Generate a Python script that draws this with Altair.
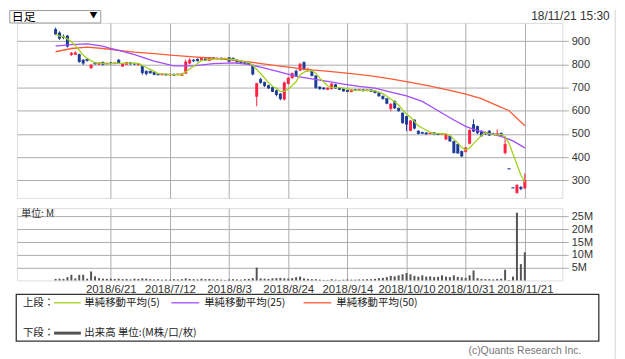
import altair as alt
import pandas as pd

# ---------------- data ----------------
tick_idx = [14, 29, 44, 59, 74, 89, 104, 119]
tick_labels = ["2018/6/21", "2018/7/12", "2018/8/3", "2018/8/24",
               "2018/9/14", "2018/10/10", "2018/10/31", "2018/11/21"]
price_ticks = [300, 400, 500, 600, 700, 800, 900]
vol_ticks = [5, 10, 15, 20, 25]

opens = [950, 935, 918, 922, 842, 843, 842, 818, 822, 785,
         806, 800, 808, 802, 806, 803, 818, 792, 800, 806,
         804, 798, 792, 770, 770, 766, 758, 755, 757, 754,
         757, 755, 752, 762, 805, 818, 822, 818, 823, 816,
         828, 824, 826, 823, 828, 826, 818, 812, 810, 806,
         792, 662, 735, 722, 708, 700, 686, 672, 650, 718,
         742, 770, 775, 808, 772, 772, 750, 702, 698, 692,
         695, 712, 698, 694, 688, 682, 690, 688, 690, 687,
         690, 685, 676, 662, 652, 610, 640, 610, 590, 575,
         515, 560, 512, 506, 504, 502, 505, 500, 498, 478,
         490, 468, 455, 425, 425, 460, 540, 532, 512, 505,
         512, 500, 500, 503, 420, 350, 268, 248, 270, 268]

highs = [958, 942, 928, 926, 853, 856, 846, 822, 826, 800,
         810, 808, 812, 808, 810, 809, 822, 806, 810, 810,
         807, 806, 795, 773, 772, 769, 762, 761, 760, 759,
         760, 761, 762, 820, 826, 822, 825, 828, 826, 830,
         831, 829, 830, 828, 831, 829, 821, 815, 813, 810,
         800, 720, 742, 725, 712, 703, 690, 676, 726, 745,
         765, 778, 806, 812, 785, 776, 752, 706, 701, 700,
         720, 716, 701, 696, 690, 693, 694, 694, 693, 693,
         692, 688, 680, 666, 655, 632, 645, 614, 592, 578,
         560, 563, 516, 510, 508, 508, 508, 504, 505, 503,
         493, 470, 458, 428, 442, 520, 563, 536, 515, 510,
         516, 505, 520, 506, 490, 350, 268, 285, 276, 330]

lows = [925, 905, 908, 872, 836, 840, 806, 797, 812, 780,
        798, 797, 795, 798, 799, 800, 802, 789, 797, 798,
        797, 795, 755, 752, 760, 752, 752, 752, 751, 751,
        750, 752, 750, 758, 800, 810, 812, 815, 814, 814,
        820, 820, 820, 818, 809, 815, 806, 805, 800, 796,
        752, 619, 716, 702, 694, 680, 662, 645, 645, 712,
        738, 748, 770, 775, 768, 748, 694, 690, 690, 689,
        692, 694, 689, 682, 680, 680, 684, 685, 683, 684,
        681, 675, 660, 648, 628, 598, 608, 596, 545, 512,
        512, 520, 498, 500, 497, 499, 497, 495, 495, 474,
        466, 415, 414, 400, 420, 455, 508, 500, 488, 497,
        492, 496, 496, 488, 412, 350, 268, 243, 258, 262]

closes = [930, 912, 915, 878, 848, 849, 812, 805, 816, 797,
          802, 806, 800, 804, 803, 806, 805, 803, 808, 802,
          801, 803, 764, 760, 763, 757, 755, 758, 754, 757,
          753, 758, 758, 810, 818, 815, 815, 826, 818, 828,
          825, 826, 824, 825, 813, 819, 810, 808, 804, 800,
          758, 717, 722, 708, 698, 683, 670, 652, 720, 740,
          760, 752, 800, 778, 778, 752, 700, 695, 694, 697,
          715, 698, 692, 685, 683, 690, 688, 691, 686, 690,
          684, 678, 664, 652, 632, 628, 612, 600, 548, 542,
          556, 525, 502, 503, 500, 505, 500, 498, 502, 499,
          470, 420, 418, 405, 440, 516, 512, 505, 492, 500,
          495, 499, 502, 492, 455, 350, 268, 278, 264, 300]

volumes = [0.6, 0.7, 0.6, 1.3, 2.2, 0.8, 2.2, 2.2, 0.7, 3.5,
           1.6, 0.9, 0.7, 0.6, 0.7, 0.6, 0.7, 0.5, 0.6, 0.4,
           0.7, 0.6, 0.8, 0.7, 0.5, 0.4, 0.5, 0.3, 0.4, 0.3,
           0.5, 0.4, 0.5, 0.8, 0.6, 0.5, 0.4, 0.7, 0.5, 0.6,
           0.4, 0.5, 0.3, 0.2, 0.4, 0.5, 0.4, 0.3, 0.5, 0.6,
           0.9, 5.0, 0.8, 0.7, 0.6, 0.8, 0.9, 1.0, 0.8, 0.7,
           0.9, 1.3, 1.5, 0.8, 0.6, 0.5, 0.5, 0.3, 0.2, 0.2,
           0.5, 0.3, 0.2, 0.3, 0.4, 0.3, 0.3, 0.4, 0.4, 0.5,
           0.5, 0.6, 0.9, 1.0, 1.3, 1.8, 1.6, 2.0, 2.4, 2.9,
           2.4, 1.8, 1.5, 2.0, 1.5, 1.6, 1.3, 1.4, 2.0, 1.5,
           1.3, 2.0, 1.4, 1.2, 1.0, 2.0, 3.9, 0.9, 0.6, 0.5,
           0.5, 0.4, 0.6, 0.7, 4.2, 0.2, 1.5, 26.5, 6.4, 11.0]

ma25_idx = [0, 4, 8, 12, 14, 17, 20, 25, 30, 35, 40, 45, 49, 53, 57, 61,
            65, 69, 73, 77, 81, 85, 89, 93, 97, 101, 104, 107, 110, 113, 116, 119]
ma25_val = [878, 885, 888, 878, 868, 856, 842, 814, 793, 793, 803, 806, 800, 783, 766, 748,
            737, 726, 715, 705, 697, 680, 664, 640, 600, 560, 533, 514, 502, 490, 470, 440]

ma50_idx = [0, 4, 8, 12, 16, 20, 25, 30, 35, 40, 45, 50, 55, 60, 65, 70,
            75, 80, 85, 90, 95, 100, 104, 108, 112, 115, 119]
ma50_val = [854, 868, 874, 868, 860, 852, 846, 838, 832, 826, 818, 808, 796, 786, 776, 768,
            760, 750, 737, 722, 706, 688, 672, 652, 622, 600, 535]

# ---------------- tables ----------------
n = len(closes)
df = pd.DataFrame({"i": list(range(n)), "open": opens, "high": highs, "low": lows,
                   "close": closes, "vol": volumes})
df["dir"] = ["up" if c > o else "down" for o, c in zip(opens, closes)]
df25 = pd.DataFrame({"i": ma25_idx, "v": ma25_val})
df50 = pd.DataFrame({"i": ma50_idx, "v": ma50_val})
one = pd.DataFrame({"k": [0]})

# ---------------- styles ----------------
RED = "#ff2244"
BLUE = "#1c3a98"
C5 = "#a2d11e"
C25 = "#a24cff"
C50 = "#ff5a35"
GRID = "#ababab"
TXT = "#333333"
JP = "Noto Sans CJK JP"
LAT = "Liberation Sans"

XS = alt.Scale(domain=[-8.54, 127.25], nice=False, zero=False)
PS = alt.Scale(domain=[224.6, 978], nice=False, zero=False)
VS = alt.Scale(domain=[0, 28.27], nice=False, zero=True)

W = 548.6
HP = 176
HV = 72.7


def xp():
    return alt.X("i:Q", scale=XS,
                 axis=alt.Axis(values=tick_idx, labels=False, ticks=False, domain=False,
                               grid=True, gridColor=GRID, title=None))


def yp(f):
    return alt.Y(f, scale=PS,
                 axis=alt.Axis(orient="right", values=price_ticks, grid=True, gridColor=GRID,
                               tickSize=6, tickColor=GRID, labelPadding=3, domain=False,
                               title=None, labelFontSize=11, labelColor=TXT, labelFont=LAT))


col = alt.Color("dir:N", scale=alt.Scale(domain=["up", "down"], range=[RED, BLUE]), legend=None)

wick = alt.Chart(df).mark_rule(strokeWidth=1).encode(x=xp(), y=yp("low:Q"), y2="high:Q", color=col)
body = alt.Chart(df).mark_bar(size=3).encode(x=xp(), y=yp("open:Q"), y2="close:Q", color=col)
otick = alt.Chart(df).mark_tick(orient="horizontal", size=3, thickness=1).encode(
    x=xp(), y=yp("open:Q"), color=col)
ctick = alt.Chart(df).mark_tick(orient="horizontal", size=3, thickness=1).encode(
    x=xp(), y=yp("close:Q"), color=col)

ma5 = alt.Chart(df).transform_window(
    ma5="mean(close)", frame=[-4, 0], sort=[alt.SortField("i", order="ascending")]
).mark_line(color=C5, strokeWidth=1.3).encode(x=xp(), y=yp("ma5:Q"))
ma25 = alt.Chart(df25).mark_line(color=C25, strokeWidth=1.3).encode(x=xp(), y=yp("v:Q"))
ma50 = alt.Chart(df50).mark_line(color=C50, strokeWidth=1.3).encode(x=xp(), y=yp("v:Q"))

# header (drop-down box and time stamp), placed relative to the price panel
hbox = alt.Chart(one).mark_rect(fill="white", stroke="#9a9a9a", strokeWidth=1).encode(
    x=alt.value(-7.2), x2=alt.value(84.3), y=alt.value(-12.5), y2=alt.value(0))
hday = alt.Chart(one).mark_text(text="日足", align="left", baseline="middle", font=JP,
                                fontSize=12, color="#000").encode(x=alt.value(-5.2), y=alt.value(-5.6))
harrow = alt.Chart(one).mark_text(text="▼", align="center", baseline="middle", font=JP,
                                  fontSize=8, color="#000").encode(x=alt.value(77), y=alt.value(-6.5))
htime = alt.Chart(one).mark_text(text="18/11/21 15:30", align="right", baseline="middle", font=LAT,
                                 fontSize=12, color=TXT).encode(x=alt.value(596.3), y=alt.value(-6.5))

price = alt.layer(wick, body, otick, ctick, ma50, ma25, ma5, hbox, hday, harrow, htime).properties(
    width=W, height=HP)

# ---------------- volume panel ----------------
label_expr = ("[" + ",".join("'%s'" % s for s in tick_labels) + "][indexof(["
              + ",".join(str(v) for v in tick_idx) + "], datum.value)]")

xv = alt.X("i:Q", scale=XS,
           axis=alt.Axis(values=tick_idx, labelExpr=label_expr, ticks=False, tickSize=0,
                         labelPadding=3, domain=False, grid=True, gridColor=GRID, title=None,
                         labelFontSize=11.5, labelColor=TXT, labelFont=LAT, labelFlush=False,
                         labelOverlap=False))
yv = alt.Y("vol:Q", scale=VS,
           axis=alt.Axis(orient="right", values=vol_ticks, labelExpr="datum.value + 'M'",
                         grid=True, gridColor=GRID, tickSize=6, tickColor=GRID, labelPadding=3,
                         domain=False, title=None, labelFontSize=11, labelColor=TXT, labelFont=LAT))

vbars = alt.Chart(df).mark_bar(size=2, color="#555555").encode(x=xv, y=yv)

unit = alt.Chart(one).mark_text(text="単位: M", align="left", baseline="middle", font=JP,
                                fontSize=10, color=TXT).encode(x=alt.value(4.3), y=alt.value(6.2))

# legend box below
lbox = alt.Chart(one).mark_rect(fill="white", stroke="#333333", strokeWidth=1.3).encode(
    x=alt.value(-0.7), x2=alt.value(585.3), y=alt.value(86.7), y2=alt.value(133.7))


def ltext(t, x, y, size=10.5, font=JP, color="#222222", align="left"):
    return alt.Chart(one).mark_text(text=t, align=align, baseline="middle", font=font,
                                    fontSize=size, color=color).encode(
        x=alt.value(x), y=alt.value(y))


def lline(x1, x2, y, color, w=1.3):
    return alt.Chart(one).mark_rule(color=color, strokeWidth=w, strokeCap="butt").encode(
        x=alt.value(x1), x2=alt.value(x2), y=alt.value(y))


R1 = 95.2
R2 = 125.7
legend_layers = [
    lbox,
    ltext("上段：", 6, R1), lline(37.3, 64.3, R1, C5), ltext("単純移動平均(5)", 67.8, R1),
    lline(155.3, 183.3, R1, C25), ltext("単純移動平均(25)", 188.3, R1),
    lline(288.3, 316.3, R1, C50), ltext("単純移動平均(50)", 321.3, R1),
    ltext("下段：", 6, R2), lline(37.3, 64.3, R2, "#555555", 3),
    ltext("出来高 単位:(M株/口/枚)", 67.8, R2),
    ltext("(c)Quants Research Inc.", 567.8, 144.2, size=10.5, font=LAT, color="#777777",
          align="right"),
]

edge = alt.Chart(one).mark_rule(color="#d4d4d4", strokeWidth=1).encode(
    x=alt.value(601.8), y=alt.value(-199.3), y2=alt.value(151.5))

vol = alt.layer(vbars, unit, *legend_layers, edge).properties(width=W, height=HV)

chart = alt.vconcat(price, vol, spacing=10.3, bounds="flush").properties(
    padding=0
).configure_view(stroke="#999999", strokeWidth=1).configure(background="white")

chart.save("out.html", embed_options={"renderer": "svg", "actions": False})
